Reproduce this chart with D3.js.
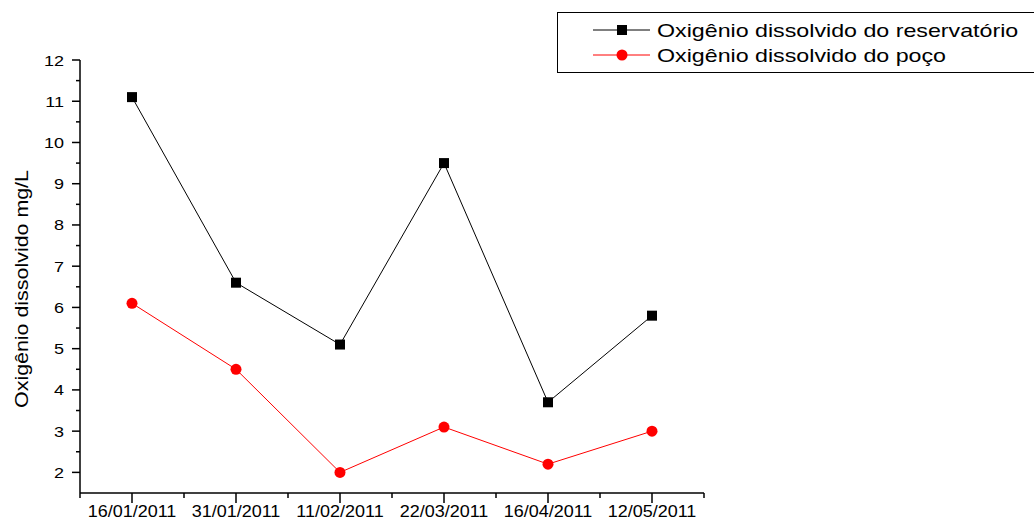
<!DOCTYPE html>
<html>
<head>
<meta charset="utf-8">
<script src="https://cdn.jsdelivr.net/npm/d3@7"></script>
<style>
  html, body { margin: 0; padding: 0; background: #fff; }
  svg { display: block; font-family: "Liberation Sans", Arial, sans-serif; }
</style>
</head>
<body>
<svg id="chart" width="1034" height="522"></svg>
<script>
// Sampling dates
const dates = ["16/01/2011", "31/01/2011", "11/02/2011", "22/03/2011", "16/04/2011", "12/05/2011"];
// Dissolved oxygen (mg/L)
const reservatorio = [11.1, 6.6, 5.1, 9.5, 3.7, 5.8];
const poco = [6.1, 4.5, 2.0, 3.1, 2.2, 3.0];
const yTicks = [2, 3, 4, 5, 6, 7, 8, 9, 10, 11, 12];
const seriesNames = ["Oxigênio dissolvido do reservatório", "Oxigênio dissolvido do poço"];

const svg = d3.select("#chart");
const plotLeft = 80, plotRight = 704, plotTop = 60, plotBottom = 493;

const x = d3.scaleLinear().domain([0.5, dates.length + 0.5]).range([plotLeft, plotRight]);
const y = d3.scaleLinear().domain([1.5, 12]).range([plotBottom, plotTop]);

// Text in this chart is drawn slightly wide
function stretch(sel, k) {
  sel.each(function () {
    const t = d3.select(this);
    const tx = +t.attr("data-x"), ty = +t.attr("data-y"), rot = t.attr("data-r") || 0;
    t.attr("transform", `translate(${tx},${ty}) rotate(${rot}) scale(${k},1)`);
  });
}

// Y axis
const gy = svg.append("g");
gy.append("line").attr("x1", plotLeft).attr("x2", plotLeft).attr("y1", plotTop).attr("y2", plotBottom)
  .attr("stroke", "#000").attr("stroke-width", 1.5);
const yMinor = d3.range(2.5, 12, 1);
gy.selectAll("line.maj").data(yTicks).join("line").attr("class", "maj")
  .attr("x1", plotLeft - 8).attr("x2", plotLeft).attr("y1", d => y(d)).attr("y2", d => y(d))
  .attr("stroke", "#000").attr("stroke-width", 1.5);
gy.selectAll("line.min").data(yMinor).join("line").attr("class", "min")
  .attr("x1", plotLeft - 4).attr("x2", plotLeft).attr("y1", d => y(d)).attr("y2", d => y(d))
  .attr("stroke", "#000").attr("stroke-width", 1.5);
gy.selectAll("text").data(yTicks).join("text")
  .attr("data-x", 64).attr("data-y", d => y(d) + 5.5)
  .attr("text-anchor", "end").attr("font-size", 15).attr("fill", "#000")
  .text(d => d)
  .call(stretch, 1.2);

// X axis
const gx = svg.append("g");
gx.append("line").attr("x1", plotLeft).attr("x2", plotRight).attr("y1", plotBottom).attr("y2", plotBottom)
  .attr("stroke", "#000").attr("stroke-width", 1.5);
const xMaj = d3.range(1, dates.length + 1);
const xMin = d3.range(0.5, dates.length + 1, 1);
gx.selectAll("line.maj").data(xMaj).join("line").attr("class", "maj")
  .attr("x1", d => x(d)).attr("x2", d => x(d)).attr("y1", plotBottom).attr("y2", plotBottom + 10)
  .attr("stroke", "#000").attr("stroke-width", 1.5);
gx.selectAll("line.min").data(xMin).join("line").attr("class", "min")
  .attr("x1", d => x(d)).attr("x2", d => x(d)).attr("y1", plotBottom).attr("y2", plotBottom + 5)
  .attr("stroke", "#000").attr("stroke-width", 1.5);
gx.selectAll("text").data(dates).join("text")
  .attr("data-x", (d, i) => x(i + 1)).attr("data-y", 517)
  .attr("text-anchor", "middle").attr("font-size", 16).attr("fill", "#000")
  .text(d => d)
  .call(stretch, 1.125);

// Y title
svg.append("text")
  .attr("data-x", 28).attr("data-y", 289).attr("data-r", -90)
  .attr("text-anchor", "middle").attr("font-size", 18).attr("fill", "#000")
  .text("Oxigênio dissolvido mg/L")
  .call(stretch, 1.19);

// Series lines
const line = d3.line().x((d, i) => x(i + 1)).y(d => y(d));
svg.append("path").datum(reservatorio).attr("d", line)
  .attr("fill", "none").attr("stroke", "#000").attr("stroke-width", 1);
svg.append("path").datum(poco).attr("d", line)
  .attr("fill", "none").attr("stroke", "#ff0000").attr("stroke-width", 1);

// Markers
const sq = 10;
svg.selectAll("rect.res").data(reservatorio).join("rect").attr("class", "res")
  .attr("x", (d, i) => x(i + 1) - sq / 2).attr("y", d => y(d) - sq / 2)
  .attr("width", sq).attr("height", sq).attr("fill", "#000");
svg.selectAll("circle.poco").data(poco).join("circle").attr("class", "poco")
  .attr("cx", (d, i) => x(i + 1)).attr("cy", d => y(d)).attr("r", 5.5)
  .attr("fill", "#ff0000");

// Legend (box runs past the right edge of the canvas)
const lg = svg.append("g");
lg.append("rect").attr("x", 557.5).attr("y", 12.5).attr("width", 490).attr("height", 60)
  .attr("fill", "none").attr("stroke", "#000").attr("stroke-width", 1);
const rows = [
  { name: seriesNames[0], color: "#000", shape: "square", yy: 30 },
  { name: seriesNames[1], color: "#ff0000", shape: "circle", yy: 55 }
];
rows.forEach(r => {
  lg.append("line").attr("x1", 593).attr("x2", 650).attr("y1", r.yy).attr("y2", r.yy)
    .attr("stroke", r.color).attr("stroke-width", 1);
  if (r.shape === "square") {
    lg.append("rect").attr("x", 622 - sq / 2).attr("y", r.yy - sq / 2)
      .attr("width", sq).attr("height", sq).attr("fill", r.color);
  } else {
    lg.append("circle").attr("cx", 622).attr("cy", r.yy).attr("r", 5.5).attr("fill", r.color);
  }
  lg.append("text").attr("data-x", 657).attr("data-y", r.yy + 6.5)
    .attr("font-size", 18).attr("fill", "#000").text(r.name)
    .call(stretch, 1.29);
});
</script>
</body>
</html>
